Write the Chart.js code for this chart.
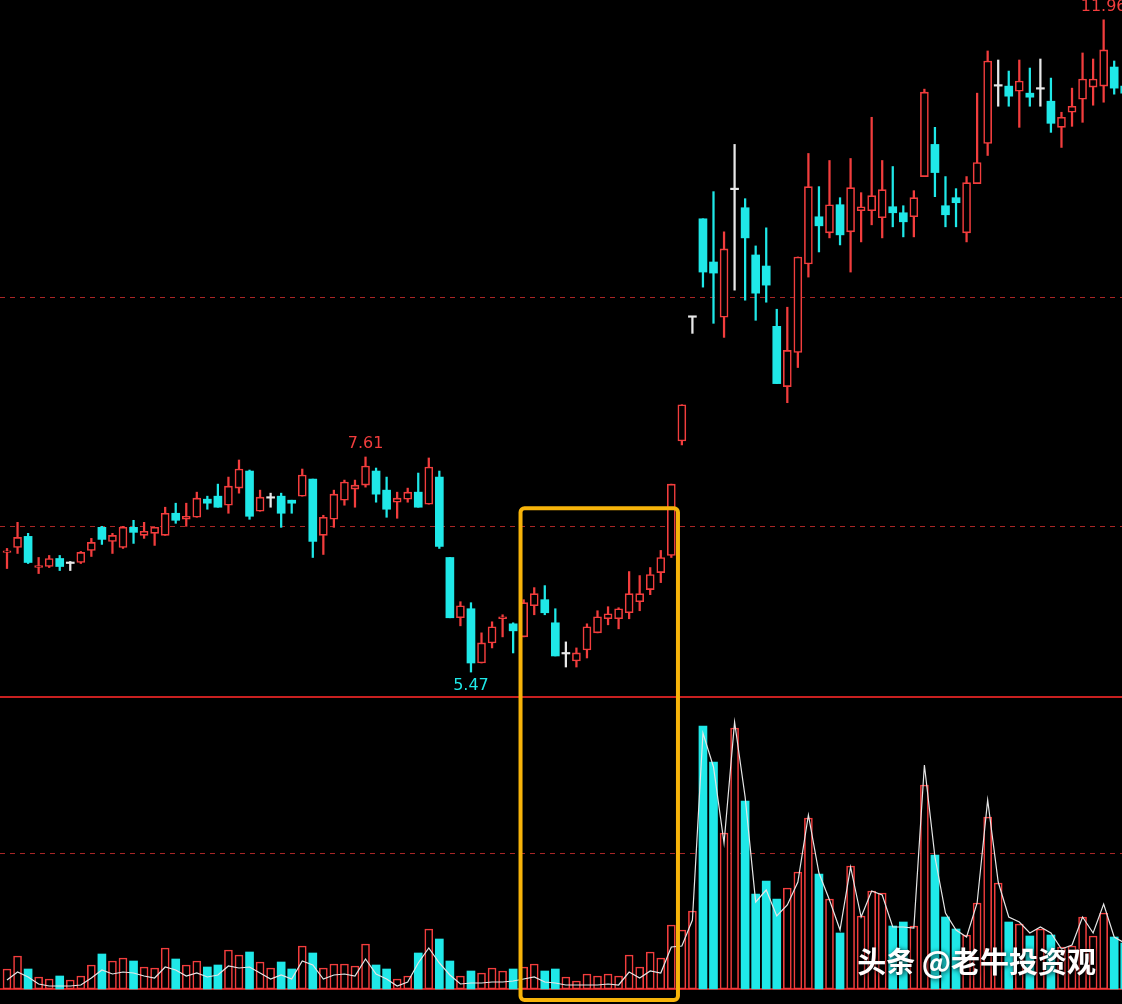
<!DOCTYPE html>
<html>
<head>
<meta charset="utf-8">
<script src="https://cdn.jsdelivr.net/npm/chart.js@4.4.1/dist/chart.umd.min.js"></script>
<style>
  html, body { margin: 0; padding: 0; background: #000; overflow: hidden; }
  #wrap { position: relative; width: 1122px; height: 1004px; }
</style>
</head>
<body>
<div id="wrap"><canvas id="kline" width="1122" height="1004"></canvas></div>
<script>
// === 日K数据（开 / 高 / 低 / 收） ===
const opens = [
  6.66, 6.71, 6.82, 6.51, 6.52, 6.60, 6.55, 6.56, 6.68, 6.91,
  6.77, 6.71, 6.91, 6.83, 6.85, 6.83, 7.05, 6.99, 7.01, 7.19,
  7.22, 7.13, 7.30, 7.47, 7.07, 7.20, 7.22, 7.18, 7.22, 7.39,
  6.83, 6.99, 7.18, 7.29, 7.33, 7.47, 7.28, 7.16, 7.19, 7.26,
  7.14, 7.41, 6.61, 6.01, 6.10, 5.56, 5.76, 6.00, 5.95, 5.82,
  6.13, 6.19, 5.96, 5.65, 5.58, 5.69, 5.86, 6.00, 6.00, 6.06,
  6.17, 6.29, 6.46, 6.63, 7.77, 9.00, 9.98, 9.55, 9.00, 10.27,
  10.09, 9.62, 9.51, 8.91, 8.31, 8.65, 9.53, 10.00, 9.84, 10.12,
  9.85, 10.06, 10.06, 9.99, 10.10, 10.04, 10.00, 10.40, 10.72, 10.11,
  10.19, 9.84, 10.33, 10.73, 11.30, 11.30, 11.25, 11.23, 11.27, 11.15,
  10.89, 11.04, 11.17, 11.29, 11.30, 11.49, 11.30
];
const highs = [
  6.70, 6.96, 6.85, 6.61, 6.63, 6.63, 6.57, 6.67, 6.80, 6.92,
  6.85, 6.92, 6.98, 6.96, 6.91, 7.11, 7.15, 7.15, 7.26, 7.22,
  7.34, 7.41, 7.58, 7.48, 7.28, 7.25, 7.25, 7.18, 7.49, 7.39,
  7.03, 7.28, 7.38, 7.38, 7.61, 7.50, 7.41, 7.26, 7.30, 7.45,
  7.60, 7.47, 6.61, 6.17, 6.16, 5.86, 5.97, 6.04, 5.96, 6.19,
  6.31, 6.33, 6.10, 5.77, 5.71, 5.95, 6.08, 6.12, 6.11, 6.47,
  6.43, 6.51, 6.68, 7.34, 8.13, 9.00, 9.98, 10.25, 9.85, 10.72,
  10.18, 9.71, 9.89, 9.08, 9.10, 9.60, 10.63, 10.30, 10.56, 10.19,
  10.58, 10.24, 10.99, 10.56, 10.50, 10.11, 10.26, 11.27, 10.89, 10.40,
  10.28, 10.40, 11.23, 11.65, 11.56, 11.45, 11.56, 11.48, 11.57, 11.38,
  11.04, 11.28, 11.63, 11.57, 11.96, 11.55, 11.34
];
const lows = [
  6.50, 6.65, 6.55, 6.45, 6.51, 6.48, 6.48, 6.55, 6.62, 6.74,
  6.65, 6.70, 6.75, 6.80, 6.73, 6.83, 6.95, 6.92, 7.01, 7.09,
  7.11, 7.05, 7.25, 6.99, 7.07, 7.11, 6.91, 7.05, 7.22, 6.61,
  6.64, 6.91, 7.13, 7.11, 7.31, 7.16, 7.01, 7.00, 7.16, 7.11,
  7.14, 6.70, 6.01, 5.93, 5.47, 5.56, 5.71, 5.82, 5.66, 5.82,
  6.04, 6.04, 5.63, 5.52, 5.52, 5.61, 5.86, 5.94, 5.90, 6.00,
  6.08, 6.24, 6.36, 6.61, 7.73, 8.84, 9.30, 8.94, 8.80, 9.27,
  9.17, 8.97, 9.15, 8.34, 8.15, 8.50, 9.40, 9.65, 9.79, 9.72,
  9.45, 9.75, 9.92, 9.79, 9.90, 9.80, 9.80, 10.40, 10.20, 9.90,
  9.90, 9.75, 10.33, 10.61, 11.10, 11.10, 10.89, 11.10, 11.10, 10.84,
  10.69, 10.90, 10.94, 11.11, 11.14, 11.22, 11.18
];
const closes = [
  6.67, 6.81, 6.56, 6.53, 6.60, 6.52, 6.55, 6.66, 6.76, 6.79,
  6.83, 6.91, 6.86, 6.87, 6.91, 7.05, 6.98, 7.02, 7.20, 7.15,
  7.11, 7.32, 7.49, 7.02, 7.21, 7.20, 7.05, 7.15, 7.43, 6.77,
  7.01, 7.24, 7.36, 7.33, 7.52, 7.24, 7.09, 7.20, 7.26, 7.11,
  7.51, 6.72, 6.01, 6.13, 5.56, 5.76, 5.92, 6.02, 5.88, 6.16,
  6.25, 6.06, 5.63, 5.65, 5.66, 5.92, 6.02, 6.05, 6.10, 6.25,
  6.25, 6.44, 6.61, 7.34, 8.13, 9.00, 9.45, 9.44, 9.68, 10.27,
  9.79, 9.24, 9.32, 8.34, 8.67, 9.60, 10.30, 9.91, 10.12, 9.82,
  10.29, 10.10, 10.21, 10.27, 10.04, 9.95, 10.19, 11.24, 10.44, 10.02,
  10.14, 10.34, 10.54, 11.55, 11.30, 11.20, 11.35, 11.19, 11.27, 10.93,
  10.99, 11.10, 11.37, 11.37, 11.66, 11.28, 11.23
];

// === 成交量（柱）与白线 ===
const volumes = [
  20, 33, 20, 12, 10, 13, 9, 13, 24, 35,
  28, 31, 28, 22, 21, 41, 30, 24, 28, 22,
  24, 39, 34, 37, 27, 21, 27, 20, 43, 36,
  21, 25, 25, 23, 45, 24, 20, 10, 13, 36,
  60, 50, 28, 13, 18, 16, 21, 18, 20, 22,
  25, 18, 20, 12, 8, 15, 13, 15, 13, 34,
  22, 37, 31, 64, 59, 78, 263, 227, 156, 261,
  188, 95, 108, 90, 101, 117, 171, 115, 90, 56,
  123, 73, 98, 96, 63, 67, 63, 204, 134, 72,
  60, 54, 86, 172, 106, 67, 65, 53, 60, 54,
  42, 43, 72, 53, 76, 52, 46
];
const amountLine = [
  9, 17, 12, 5, 3, 3, 3, 4, 11, 19,
  15, 17, 16, 13, 11, 22, 19, 13, 16, 12,
  14, 23, 21, 22, 16, 10, 14, 10, 28, 24,
  10, 14, 15, 13, 30, 15, 10, 3, 7, 26,
  41, 26, 14, 5, 6, 6, 7, 7, 8, 10,
  12, 7, 6, 4, 4, 4, 4, 5, 4, 17,
  11, 18, 16, 42, 43, 69, 256, 222, 146, 267,
  192, 87, 99, 73, 84, 107, 174, 116, 89, 59,
  122, 72, 98, 94, 62, 62, 61, 224, 132, 76,
  59, 52, 86, 189, 107, 72, 67, 56, 62, 56,
  40, 44, 72, 56, 85, 52, 46
];

// === 参考线、标注 ===
const priceGuides = [9.20, 6.92];
const volumeGuides = [136];
const panelSplit = 292;          // 价格区与量能区分界（量能单位）
const marks = [
  { index: 34, type: 'high' },
  { index: 44, type: 'low' },
  { index: 104, type: 'high' }
];
const zone = { from: 48.7, to: 63.63, topPrice: 7.10, bottomVolume: -11 };

// 颜色
const UP = '#f23d3d';
const DOWN = '#1fe8e8';
const FLAT = '#e8e8e8';

const idx = opens.map((_, i) => i);

function candleColor(i) {
  if (closes[i] > opens[i]) return UP;
  if (closes[i] < opens[i]) return DOWN;
  return FLAT;
}
function volColor(i) {
  return closes[i] >= opens[i] ? UP : DOWN;
}

function hLine(ctx, a, py) {
  ctx.beginPath();
  ctx.moveTo(a.left, py);
  ctx.lineTo(a.right, py);
  ctx.stroke();
}

const overlay = {
  id: 'overlay',
  beforeDatasetsDraw(chart) {
    const { ctx, chartArea: a, scales: { y, yv } } = chart;
    ctx.save();
    ctx.lineWidth = 1;
    ctx.strokeStyle = '#a82626';
    ctx.setLineDash([5, 5]);
    priceGuides.forEach(v => hLine(ctx, a, Math.round(y.getPixelForValue(v)) + 0.5));
    volumeGuides.forEach(v => hLine(ctx, a, Math.round(yv.getPixelForValue(v)) + 0.5));
    ctx.setLineDash([]);
    ctx.strokeStyle = '#c82020';
    ctx.lineWidth = 2;
    [panelSplit, 0].forEach(v => hLine(ctx, a, Math.round(yv.getPixelForValue(v))));
    ctx.restore();
  },
  afterDatasetsDraw(chart) {
    const { ctx, chartArea: a, scales: { x, y, yv } } = chart;
    ctx.save();

    // 高低点标注
    ctx.font = '16px "DejaVu Sans"';
    ctx.textAlign = 'center';
    ctx.textBaseline = 'middle';
    marks.forEach(m => {
      const px = x.getPixelForValue(m.index);
      if (m.type === 'high') {
        ctx.fillStyle = UP;
        ctx.fillText(highs[m.index].toFixed(2), px, y.getPixelForValue(highs[m.index]) - 13);
      } else {
        ctx.fillStyle = DOWN;
        ctx.fillText(lows[m.index].toFixed(2), px, y.getPixelForValue(lows[m.index]) + 14);
      }
    });

    // 黄色框
    const left = x.getPixelForValue(zone.from);
    const right = x.getPixelForValue(zone.to);
    const top = y.getPixelForValue(zone.topPrice);
    const bottom = yv.getPixelForValue(zone.bottomVolume);
    ctx.strokeStyle = '#f7b40a';
    ctx.lineWidth = 4;
    ctx.beginPath();
    ctx.roundRect(left, top, right - left, bottom - top, 4);
    ctx.stroke();

    // 水印
    ctx.font = 'bold 29px "Noto Sans CJK SC"';
    ctx.textAlign = 'right';
    ctx.fillStyle = '#ffffff';
    ctx.shadowColor = 'rgba(0,0,0,0.85)';
    ctx.shadowBlur = 5;
    ctx.shadowOffsetX = 1;
    ctx.shadowOffsetY = 1;
    ctx.fillText('头条 @老牛投资观', a.right - 26, a.bottom - 42);
    ctx.restore();
  }
};

new Chart(document.getElementById('kline'), {
  data: {
    datasets: [
      {
        type: 'line',
        yAxisID: 'yv',
        data: idx.map(i => ({ x: i, y: amountLine[i] })),
        borderColor: '#e6e6e6',
        borderWidth: 1.2,
        pointRadius: 0,
        tension: 0,
        order: 0
      },
      {
        type: 'bar',
        yAxisID: 'y',
        data: idx.map(i => ({ x: i, y: [opens[i], closes[i]] })),
        backgroundColor: idx.map(i => closes[i] > opens[i] ? '#000' : candleColor(i)),
        borderColor: idx.map(candleColor),
        borderWidth: idx.map(i => closes[i] > opens[i] ? 1.6 : 0),
        borderSkipped: false,
        barThickness: 8,
        minBarLength: 1.5,
        grouped: false,
        order: 1
      },
      {
        type: 'bar',
        yAxisID: 'y',
        data: idx.map(i => ({ x: i, y: [lows[i], highs[i]] })),
        backgroundColor: idx.map(candleColor),
        borderWidth: 0,
        barThickness: 1.6,
        grouped: false,
        order: 2
      },
      {
        type: 'bar',
        yAxisID: 'yv',
        data: idx.map(i => ({ x: i, y: volumes[i] })),
        backgroundColor: idx.map(i => volColor(i) === UP ? '#000' : DOWN),
        borderColor: idx.map(volColor),
        borderWidth: idx.map(i => volColor(i) === UP ? 1.6 : 0),
        borderSkipped: false,
        barThickness: 8,
        grouped: false,
        order: 3
      }
    ]
  },
  options: {
    responsive: false,
    animation: false,
    devicePixelRatio: 1,
    layout: { padding: 0 },
    plugins: { legend: { display: false }, tooltip: { enabled: false } },
    scales: {
      x: { type: 'linear', min: -0.664, max: 105.74, offset: false, display: false },
      y: { type: 'linear', min: 2.167, max: 12.157, display: false },
      yv: { type: 'linear', min: -15, max: 989, display: false }
    }
  },
  plugins: [overlay]
});
</script>
</body>
</html>
